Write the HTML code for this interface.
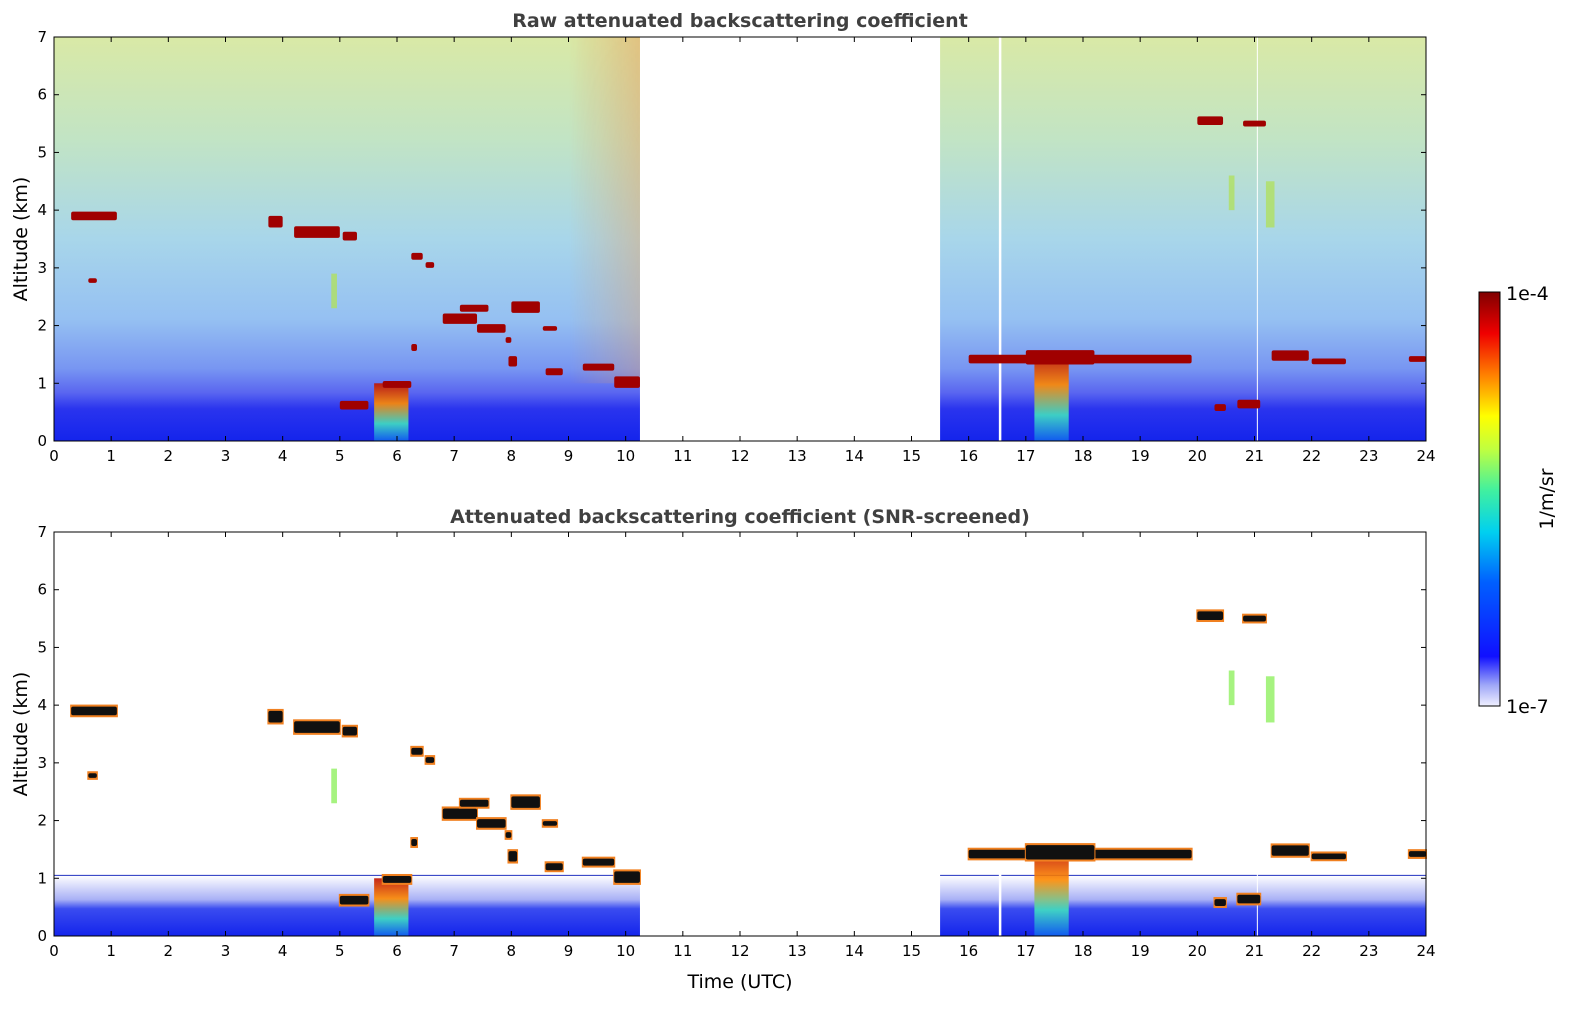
<!DOCTYPE html>
<html><head><meta charset="utf-8">
<style>
html,body{margin:0;padding:0;background:#fff;overflow:hidden;width:1595px;height:1020px;font-family:"Liberation Sans","DejaVu Sans",sans-serif;}
svg{display:block;}
svg text{font-family:"DejaVu Sans","Liberation Sans",sans-serif;}
</style></head>
<body>
<svg id="fig" width="1595" height="1020" viewBox="0 0 1595 1020" xmlns="http://www.w3.org/2000/svg">
<defs>
<linearGradient id="gTop" x1="0" y1="0" x2="0" y2="1">
<stop offset="0" stop-color="#d9e9a6"/>
<stop offset="0.25" stop-color="#c2e4c4"/>
<stop offset="0.5" stop-color="#a8d6ea"/>
<stop offset="0.7" stop-color="#95c0f2"/>
<stop offset="0.82" stop-color="#7896f2"/>
<stop offset="0.88" stop-color="#5a66f0"/>
<stop offset="0.92" stop-color="#2a34ee"/>
<stop offset="1" stop-color="#1424ec"/>
</linearGradient>
<linearGradient id="gBase" x1="0" y1="0" x2="0" y2="1">
<stop offset="0" stop-color="#ffffff"/>
<stop offset="0.4" stop-color="#a8b0f6"/>
<stop offset="0.55" stop-color="#3a4cf0"/>
<stop offset="1" stop-color="#1424ec"/>
</linearGradient>
<linearGradient id="gConv" x1="0" y1="0" x2="0" y2="1">
<stop offset="0" stop-color="#c01000"/>
<stop offset="0.35" stop-color="#ff8a00"/>
<stop offset="0.7" stop-color="#40e0c0"/>
<stop offset="1" stop-color="#1060f0"/>
</linearGradient>
<linearGradient id="gCb" x1="0" y1="1" x2="0" y2="0">
<stop offset="0" stop-color="#f0f0ff"/>
<stop offset="0.05" stop-color="#a0a8f8"/>
<stop offset="0.12" stop-color="#1010ff"/>
<stop offset="0.3" stop-color="#0060ff"/>
<stop offset="0.42" stop-color="#00d0f0"/>
<stop offset="0.52" stop-color="#40f0a0"/>
<stop offset="0.62" stop-color="#c0ff40"/>
<stop offset="0.7" stop-color="#ffff00"/>
<stop offset="0.8" stop-color="#ff8000"/>
<stop offset="0.9" stop-color="#f00000"/>
<stop offset="1" stop-color="#800000"/>
</linearGradient>
<linearGradient id="gRedEdge" x1="1" y1="0" x2="0" y2="0">
<stop offset="0" stop-color="#e8a060" stop-opacity="0.55"/>
<stop offset="1" stop-color="#e8a060" stop-opacity="0"/>
</linearGradient>
<linearGradient id="gRedFade" x1="0" y1="0" x2="0" y2="1">
<stop offset="0" stop-color="#fff" stop-opacity="1"/>
<stop offset="1" stop-color="#fff" stop-opacity="0"/>
</linearGradient>
<mask id="mFade"><rect x="0" y="0" width="1595" height="1020" fill="url(#gRedFade)"/></mask>
</defs>
<g id="panels"></g>
<text x="740" y="27" text-anchor="middle" font-size="19" font-weight="bold" fill="#404040">Raw attenuated backscattering coefficient</text>
<text x="740" y="523" text-anchor="middle" font-size="19" font-weight="bold" fill="#404040">Attenuated backscattering coefficient (SNR-screened)</text>
<text x="740" y="988" text-anchor="middle" font-size="19" fill="#000">Time (UTC)</text>
<text transform="translate(27,239) rotate(-90)" text-anchor="middle" font-size="19">Altitude (km)</text>
<text transform="translate(27,734) rotate(-90)" text-anchor="middle" font-size="19">Altitude (km)</text>
<g>
<rect x="1479" y="292" width="21" height="414" fill="url(#gCb)" stroke="#000" stroke-width="1"/>
<text x="1506" y="300" font-size="19">1e-4</text>
<text x="1506" y="713" font-size="19">1e-7</text>
<text transform="translate(1553,499) rotate(-90)" text-anchor="middle" font-size="19">1/m/sr</text>
</g>
</svg>
<script>
const hoursTicks=[0,1,2,3,4,5,6,7,8,9,10,11,12,13,14,15,16,17,18,19,20,21,22,23,24];
const altTicks=[0,1,2,3,4,5,6,7];
const dataStart=[0,15.5];
const dataEnd=[10.25,24];
const whiteGaps=[16.55,21.05];
// clouds: start hour, end hour, center altitude km, thickness km
const cloudStart=[0.3,0.6,3.75,4.2,5.05,6.25,6.5,6.8,7.1,7.4,7.9,7.95,8.0,8.55,8.6,9.25,9.8,5.0,5.75,6.25,16.0,17.0,20.0,20.8,21.3,22.0,23.7,20.3,20.7];
const cloudEnd=[1.1,0.75,4.0,5.0,5.3,6.45,6.65,7.4,7.6,7.9,8.0,8.1,8.5,8.8,8.9,9.8,10.25,5.5,6.25,6.35,19.9,18.2,20.45,21.2,21.95,22.6,24.0,20.5,21.1];
const cloudAlt=[3.9,2.78,3.8,3.62,3.55,3.2,3.05,2.12,2.3,1.95,1.75,1.38,2.32,1.95,1.2,1.28,1.02,0.62,0.98,1.62,1.42,1.45,5.55,5.5,1.48,1.38,1.42,0.58,0.64];
const cloudThick=[0.15,0.08,0.2,0.2,0.15,0.12,0.1,0.18,0.12,0.15,0.1,0.18,0.2,0.08,0.12,0.12,0.2,0.15,0.12,0.12,0.15,0.25,0.15,0.1,0.18,0.1,0.1,0.12,0.15];
// convective plumes: start hour, end hour, top km
const plumeStart=[5.6,17.15];
const plumeEnd=[6.2,17.75];
const plumeTop=[1.0,1.5];
// faint aerosol/ice features
const faintStart=[20.55,21.2,4.85];
const faintEnd=[20.65,21.35,4.95];
const faintAlt=[4.3,4.1,2.6];
const faintThick=[0.6,0.8,0.6];

const NS='http://www.w3.org/2000/svg';
const X0=54,X1=1426;
const panelsY=[[37,441],[532,936]];
function xs(h){return X0+(h/24)*(X1-X0);}
function mk(tag,attrs,parent){const e=document.createElementNS(NS,tag);for(const k in attrs)e.setAttribute(k,attrs[k]);parent.appendChild(e);return e;}
const root=document.getElementById('panels');
panelsY.forEach((py,pi)=>{
  const top=py[0],bot=py[1];
  const ys=a=>bot-(a/7)*(bot-top);
  const g=mk('g',{},root);
  
  
  for(let s=0;s<dataStart.length;s++){
    const x=xs(dataStart[s]),w=xs(dataEnd[s])-x;
    if(pi===0){
      const r=mk('rect',{x:x,y:top,width:w,height:bot-top,fill:'url(#gTop)'},g);
      
      
    } else {
      const r=mk('rect',{x:x,y:ys(1.05),width:w,height:bot-ys(1.05),fill:'url(#gBase)'},g);
      
      
      mk('line',{x1:x,x2:x+w,y1:ys(1.05),y2:ys(1.05),stroke:'#2030c0','stroke-width':1},g);
    }
  }
  if(pi===0){
    mk('rect',{x:xs(9.0),y:top,width:xs(10.25)-xs(9.0),height:ys(1)-top,fill:'url(#gRedEdge)',mask:'url(#mFade)'},g);
  }
  whiteGaps.forEach(h=>{mk('line',{x1:xs(h),x2:xs(h),y1:top,y2:bot,stroke:'#fff','stroke-width':h<20?2.5:1},g);});
  for(let i=0;i<plumeStart.length;i++){
    const r=mk('rect',{x:xs(plumeStart[i]),y:ys(plumeTop[i]),width:xs(plumeEnd[i])-xs(plumeStart[i]),height:bot-ys(plumeTop[i]),fill:'url(#gConv)',opacity:0.9},g);
    
    
  }
  for(let i=0;i<faintStart.length;i++){
    const r=mk('rect',{x:xs(faintStart[i]),y:ys(faintAlt[i]+faintThick[i]/2),width:xs(faintEnd[i])-xs(faintStart[i]),height:ys(0)-ys(faintThick[i]),fill:pi===0?'#b0e060':'#90f060',opacity:0.8},g);
    
    
  }
  for(let i=0;i<cloudStart.length;i++){
    const x=xs(cloudStart[i]),w=xs(cloudEnd[i])-x,y=ys(cloudAlt[i]+cloudThick[i]/2),h=ys(0)-ys(cloudThick[i]);
    if(pi===1){mk('rect',{x:x-1,y:y-2,width:w+2,height:h+4,fill:'#f08020'},g);}
    const r=mk('rect',{x:x,y:y,width:w,height:h,fill:pi===0?'#a00000':'#101010',rx:2},g);
    
    
  }
  const fr=mk('rect',{x:X0,y:top,width:X1-X0,height:bot-top,fill:'none',stroke:'#000','stroke-width':1},g);
  
  
  hoursTicks.forEach(h=>{
    const x=xs(h);
    mk('line',{x1:x,x2:x,y1:bot,y2:bot-5,stroke:'#000'},g);
    mk('line',{x1:x,x2:x,y1:top,y2:top+5,stroke:'#000'},g);
    const t=mk('text',{x:x,y:bot+20,'text-anchor':'middle','font-size':15},g);
    t.textContent=h;
    
    
  });
  altTicks.forEach(a=>{
    const y=ys(a);
    mk('line',{x1:X0,x2:X0+5,y1:y,y2:y,stroke:'#000'},g);
    mk('line',{x1:X1,x2:X1-5,y1:y,y2:y,stroke:'#000'},g);
    const t=mk('text',{x:X0-7,y:y+5,'text-anchor':'end','font-size':15},g);
    t.textContent=a;
    
    
  });
});
</script>
</body></html>
